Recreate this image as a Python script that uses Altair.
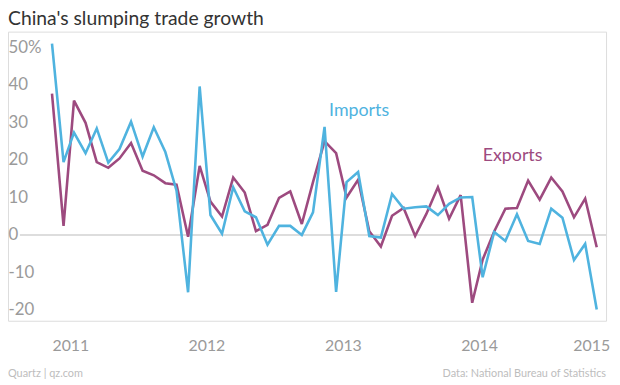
import altair as alt
import pandas as pd

# ---- data -------------------------------------------------------------
months = pd.date_range("2011-01-01", "2015-01-01", freq="MS").strftime("%Y-%m-%d").tolist()

exports = [37.7, 2.4, 35.8, 29.9, 19.4, 17.9, 20.4, 24.5, 17.1, 15.9, 13.8, 13.4,
           -0.5, 18.4, 8.9, 4.9, 15.3, 11.3, 1.0, 2.7, 9.9, 11.6, 2.9, 14.1,
           25.0, 21.8, 10.0, 14.7, 1.0, -3.1, 5.1, 7.2, -0.3, 5.6, 12.7, 4.3,
           10.6, -18.1, -6.6, 0.9, 7.0, 7.2, 14.5, 9.4, 15.3, 11.6, 4.7, 9.7,
           -3.3]
imports = [51.0, 19.4, 27.3, 21.8, 28.4, 19.3, 22.9, 30.2, 20.9, 28.7, 22.1, 11.8,
           -15.3, 39.6, 5.3, 0.3, 12.7, 6.3, 4.7, -2.6, 2.4, 2.4, 0.0, 6.0,
           28.8, -15.2, 14.1, 16.8, -0.3, -0.7, 10.9, 7.0, 7.4, 7.6, 5.3, 8.3,
           10.0, 10.1, -11.3, 0.8, -1.6, 5.5, -1.6, -2.4, 7.0, 4.6, -6.7, -2.4,
           -19.9]

series_names = ["Exports", "Imports"]
series_colors = ["#9d4a7f", "#4fb3df"]

label_months = ["2013-01-13", "2014-03-01"]
label_values = [31.7, 19.8]
label_series = ["Imports", "Exports"]

y_ticks = [-20, -10, 0, 10, 20, 30, 40, 50]
year_ticks = [2011, 2012, 2013, 2014, 2015]

title_text = "China's slumping trade growth"
credit_left = "Quartz | qz.com"
credit_right = "Data: National Bureau of Statistics"

# ---- layout -----------------------------------------------------------
W = 604
H = 292
FONT = "Lato"

df = pd.DataFrame({
    "month": months * 2,
    "value": exports + imports,
    "series": ["Exports"] * len(months) + ["Imports"] * len(months),
})
label_df = pd.DataFrame({"month": label_months, "value": label_values, "series": label_series})

x_scale = alt.Scale(
    type="utc",
    domain=[alt.DateTime(year=2010, month=9, date=5, utc=True),
            alt.DateTime(year=2015, month=1, date=26, utc=True)],
)
y_scale = alt.Scale(domain=[-22.9, 54.23], nice=False, zero=False)
color_scale = alt.Scale(domain=series_names, range=series_colors)

last_test = "datum.value > utc(2014, 6, 1)"
x_axis = alt.Axis(
    values=[alt.DateTime(year=y, month=1, date=1, utc=True) for y in year_ticks],
    labelExpr="utcFormat(datum.value, '%Y')",
    labelAlign={"condition": {"test": last_test, "value": "right"}, "value": "left"},
    labelOffset={"condition": {"test": last_test, "value": 13}, "value": 0},
    ticks=False, tickSize=0, domain=False, grid=False,
    labelPadding=17, labelFontSize=16, labelFont=FONT, labelColor="#9a9a9a",
    labelOverlap=False, labelFlush=False, labelBound=False, title=None,
)
y_axis = alt.Axis(
    values=y_ticks,
    labelExpr="datum.value == 50 ? '50%' : toString(datum.value)",
    orient="left", labelAlign="left", labelBaseline="middle", labelPadding=0,
    ticks=False, tickSize=0, domain=False, grid=False,
    labelFontSize=17, labelFont=FONT, labelColor="#9a9a9a",
    labelOverlap=False, labelBound=False, title=None,
)

zero = alt.Chart(pd.DataFrame({"v": [0]})).mark_rule(color="#d2d2d2", strokeWidth=1.5).encode(
    y=alt.datum(0),
    x=alt.value(12),
    x2=alt.value(W),
)

lines = alt.Chart(df).mark_line(strokeWidth=2.6, strokeJoin="miter", strokeMiterLimit=3).encode(
    x=alt.X("month:T", scale=x_scale, axis=x_axis),
    y=alt.Y("value:Q", scale=y_scale, axis=y_axis),
    color=alt.Color("series:N", scale=color_scale, legend=None),
)

labels = alt.Chart(label_df).mark_text(align="left", baseline="alphabetic", fontSize=18, font=FONT).encode(
    x=alt.X("month:T"),
    y=alt.Y("value:Q"),
    text="series:N",
    color=alt.Color("series:N", scale=color_scale, legend=None),
)

title = alt.Chart(pd.DataFrame({"t": [title_text]})).mark_text(
    align="left", baseline="alphabetic", fontSize=19.5, font=FONT, color="#333333"
).encode(x=alt.value(0), y=alt.value(-6.5), text="t:N")

foot_l = alt.Chart(pd.DataFrame({"t": [credit_left]})).mark_text(
    align="left", baseline="alphabetic", fontSize=11, font=FONT, color="#bdbdbd"
).encode(x=alt.value(0), y=alt.value(H + 57), text="t:N")

foot_r = alt.Chart(pd.DataFrame({"t": [credit_right]})).mark_text(
    align="right", baseline="alphabetic", fontSize=11, font=FONT, color="#bdbdbd"
).encode(x=alt.value(W), y=alt.value(H + 57), text="t:N")

chart = alt.layer(zero, lines, labels, title, foot_l, foot_r).properties(
    width=W,
    height=H,
    autosize=alt.AutoSizeParams(type="none"),
    padding={"left": 0, "top": 22, "right": 6, "bottom": 60},
).configure_view(stroke=None).configure(background="white")

chart.save("out.html", embed_options={"renderer": "svg", "actions": False})
